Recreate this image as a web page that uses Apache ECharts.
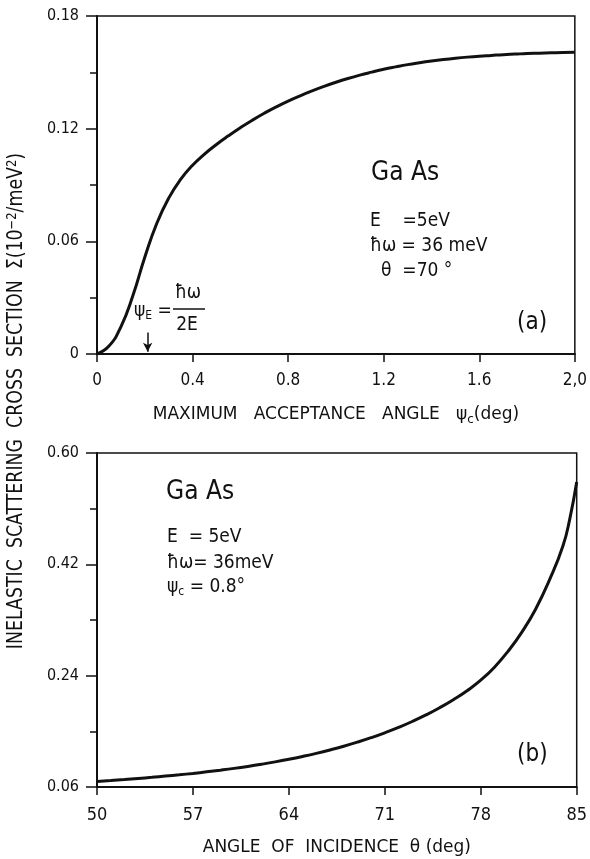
<!DOCTYPE html>
<html>
<head>
<meta charset="utf-8">
<script src="https://cdn.jsdelivr.net/npm/echarts@6/dist/echarts.min.js"></script>
<style>
html,body{margin:0;padding:0;background:#fff;}
#c{width:590px;height:859px;}
</style>
</head>
<body>
<div id="c"></div>
<script>
// ---- data ----
// (a) cross section vs maximum acceptance angle psi_c
var psiC = [0, 0.05, 0.1, 0.15, 0.2, 0.25, 0.3, 0.35, 0.4, 0.45, 0.5, 0.55, 0.6, 0.65, 0.7, 0.75, 0.8, 0.85, 0.9, 0.95, 1.0,
            1.05, 1.1, 1.15, 1.2, 1.25, 1.3, 1.35, 1.4, 1.45, 1.5, 1.55, 1.6, 1.65, 1.7, 1.75, 1.8, 1.85, 1.9, 1.95, 2.0];
var sigmaA = [0, 0.0042, 0.0145, 0.031, 0.0515, 0.0695, 0.083, 0.093, 0.1005, 0.1065, 0.1116, 0.1162, 0.1205, 0.1245, 0.1282, 0.1316, 0.1347, 0.1375, 0.1401, 0.1425, 0.1447,
              0.1467, 0.1485, 0.1501, 0.1516, 0.1529, 0.1541, 0.1551, 0.156, 0.1568, 0.1575, 0.1581, 0.1586, 0.159, 0.1594, 0.1597, 0.16, 0.1602, 0.1604, 0.1606, 0.1607];
// (b) cross section vs angle of incidence theta
var theta = [50, 51, 52, 53, 54, 55, 56, 57, 58, 59, 60, 61, 62, 63, 64, 65, 66, 67, 68, 69, 70,
             71, 72, 73, 74, 75, 76, 77, 78, 79, 80, 81, 82, 83, 84, 84.5, 85];
var sigmaB = [0.069, 0.0705, 0.0721, 0.0738, 0.0756, 0.0776, 0.0797, 0.082, 0.0845, 0.0872, 0.0901, 0.0933, 0.0968, 0.1006, 0.1048, 0.1094, 0.1144, 0.1199, 0.1259, 0.1325, 0.1397,
              0.1476, 0.1563, 0.1659, 0.1765, 0.1882, 0.2012, 0.2157, 0.2327, 0.2537, 0.2797, 0.3105, 0.3475, 0.394, 0.450, 0.494, 0.553];
// arrow marking psi_E = hbar*omega / 2E
var psiE = [0.212];
// tick values / labels
var aXTicks = [0, 0.4, 0.8, 1.2, 1.6, 2.0];
var aXLabels = ['0', '0.4', '0.8', '1.2', '1.6', '2,0'];
var aYTicks = [0, 0.06, 0.12, 0.18];
var aYLabels = ['0', '0.06', '0.12', '0.18'];
var aYMinor = [0.03, 0.09, 0.15];
var bXTicks = [50, 57, 64, 71, 78, 85];
var bXLabels = ['50', '57', '64', '71', '78', '85'];
var bYTicks = [0.06, 0.24, 0.42, 0.60];
var bYLabels = ['0.06', '0.24', '0.42', '0.60'];
var bYMinor = [0.15, 0.33, 0.51];

var FONT = "'DejaVu Sans Condensed', 'Liberation Sans Narrow', 'DejaVu Sans', sans-serif";
var FONTW = "'DejaVu Sans', sans-serif";
var INK = '#111';

function lookup(ticks, labels) {
  return function (v) {
    for (var i = 0; i < ticks.length; i++) {
      if (Math.abs(ticks[i] - v) < 1e-6) return labels[i];
    }
    return '';
  };
}
function pairs(xs, ys) {
  return xs.map(function (x, i) { return [x, ys[i]]; });
}

var axisLineStyle = { show: true, lineStyle: { color: INK, width: 2 } };
var labelBase = { color: INK, fontFamily: FONT, fontSize: 16 };

var chart = echarts.init(document.getElementById('c'), null, { renderer: 'canvas' });

var option = {
  animation: false,
  backgroundColor: '#fff',
  grid: [
    { left: 97, right: 13, top: 16, height: 338, show: true, borderColor: INK, borderWidth: 1.5, backgroundColor: 'transparent' },
    { left: 97, right: 13, top: 453, height: 334, show: true, borderColor: INK, borderWidth: 1.5, backgroundColor: 'transparent' }
  ],
  xAxis: [
    {
      type: 'value', gridIndex: 0, min: 0, max: 2.0,
      axisLine: axisLineStyle,
      axisTick: { show: true, length: 8, lineStyle: { color: INK, width: 1.5 }, customValues: aXTicks },
      axisLabel: Object.assign({}, labelBase, { fontSize: 17, margin: 18, customValues: aXTicks, formatter: lookup(aXTicks, aXLabels) }),
      splitLine: { show: false },
      name: 'MAXIMUM   ACCEPTANCE   ANGLE   ψ{s|c}(deg)',
      nameLocation: 'middle', nameGap: 50,
      nameTextStyle: { color: INK, fontFamily: FONTW, fontSize: 17, rich: { s: { fontFamily: FONTW, fontSize: 12, padding: [10, 0, 0, 0], color: INK } } }
    },
    {
      type: 'value', gridIndex: 1, min: 50, max: 85,
      axisLine: axisLineStyle,
      axisTick: { show: true, length: 8, lineStyle: { color: INK, width: 1.5 }, customValues: bXTicks },
      axisLabel: Object.assign({}, labelBase, { fontSize: 18, margin: 19, customValues: bXTicks, formatter: lookup(bXTicks, bXLabels) }),
      splitLine: { show: false },
      name: 'ANGLE  OF  INCIDENCE  θ (deg)',
      nameLocation: 'middle', nameGap: 52,
      nameTextStyle: { color: INK, fontFamily: FONTW, fontSize: 17 }
    }
  ],
  yAxis: [
    {
      type: 'value', gridIndex: 0, min: 0, max: 0.18,
      axisLine: axisLineStyle,
      axisTick: { show: true, length: 11, lineStyle: { color: INK, width: 1.5 }, customValues: aYTicks },
      axisLabel: Object.assign({}, labelBase, { margin: 18, customValues: aYTicks, formatter: lookup(aYTicks, aYLabels) }),
      splitLine: { show: false }
    },
    {
      type: 'value', gridIndex: 0, min: 0, max: 0.18, position: 'left',
      axisLine: { show: false },
      axisTick: { show: true, length: 7, lineStyle: { color: INK, width: 1.5 }, customValues: aYMinor },
      axisLabel: { show: false },
      splitLine: { show: false }
    },
    {
      type: 'value', gridIndex: 1, min: 0.06, max: 0.60,
      axisLine: axisLineStyle,
      axisTick: { show: true, length: 11, lineStyle: { color: INK, width: 1.5 }, customValues: bYTicks },
      axisLabel: Object.assign({}, labelBase, { margin: 18, customValues: bYTicks, formatter: lookup(bYTicks, bYLabels) }),
      splitLine: { show: false }
    },
    {
      type: 'value', gridIndex: 1, min: 0.06, max: 0.60, position: 'left',
      axisLine: { show: false },
      axisTick: { show: true, length: 7, lineStyle: { color: INK, width: 1.5 }, customValues: bYMinor },
      axisLabel: { show: false },
      splitLine: { show: false }
    }
  ],
  series: [
    {
      type: 'line', xAxisIndex: 0, yAxisIndex: 0,
      data: pairs(psiC, sigmaA), smooth: 0.5, smoothConstraint: false, showSymbol: false,
      lineStyle: { color: INK, width: 3 },
      markLine: {
        silent: true, symbol: ['none', 'arrow'], symbolSize: [7, 9],
        label: { show: false },
        lineStyle: { color: INK, width: 1.5, type: 'solid' },
        data: [[{ coord: [psiE[0], 0.0115] }, { coord: [psiE[0], 0.0012] }]]
      }
    },
    {
      type: 'line', xAxisIndex: 1, yAxisIndex: 2,
      data: pairs(theta, sigmaB), smooth: 0.5, smoothConstraint: false, showSymbol: false,
      lineStyle: { color: INK, width: 3 }
    }
  ],
  graphic: [
    // shared y-axis title (tall, narrow lettering)
    {
      type: 'text', x: 17, y: 401, rotation: Math.PI / 2, scaleX: 0.92, scaleY: 1,
      style: {
        text: 'INELASTIC  SCATTERING  CROSS  SECTION  Σ(10{p|−2}/meV{p|2})',
        fill: INK, font: '21px ' + FONT, align: 'center', verticalAlign: 'middle',
        rich: { p: { fontSize: 14, verticalAlign: 'top', padding: [0, 0, 10, 0], fill: INK, fontFamily: FONT } }
      }
    },
    // panel (a) annotations
    { type: 'text', x: 371, y: 173, style: { text: 'Ga As', fill: INK, font: '26px ' + FONT, verticalAlign: 'middle' } },
    { type: 'text', x: 370, y: 221, style: { text: 'E    =5eV', fill: INK, font: '19px ' + FONT, verticalAlign: 'middle' } },
    { type: 'text', x: 370, y: 246, style: { text: 'ħω = 36 meV', fill: INK, font: '19px ' + FONT, verticalAlign: 'middle' } },
    { type: 'text', x: 381, y: 271, style: { text: 'θ  =70 °', fill: INK, font: '19px ' + FONT, verticalAlign: 'middle' } },
    { type: 'text', x: 517, y: 323, style: { text: '(a)', fill: INK, font: '24px ' + FONT, verticalAlign: 'middle' } },
    // psi_E label
    { type: 'text', x: 134, y: 311, style: { text: 'ψ{s|E} =', fill: INK, font: '19px ' + FONT, verticalAlign: 'middle', rich: { s: { fontSize: 12, fontFamily: FONT, fill: INK, padding: [10, 0, 0, 0] } } } },
    { type: 'text', x: 188, y: 293, style: { text: 'ħω', fill: INK, font: '19px ' + FONT, align: 'center', verticalAlign: 'middle' } },
    { type: 'line', shape: { x1: 173, y1: 309, x2: 205, y2: 309 }, style: { stroke: INK, lineWidth: 1.5 } },
    { type: 'text', x: 187, y: 325, style: { text: '2E', fill: INK, font: '19px ' + FONT, align: 'center', verticalAlign: 'middle' } },
    // panel (b) annotations
    { type: 'text', x: 166, y: 492, style: { text: 'Ga As', fill: INK, font: '26px ' + FONT, verticalAlign: 'middle' } },
    { type: 'text', x: 167, y: 537, style: { text: 'E  = 5eV', fill: INK, font: '19px ' + FONT, verticalAlign: 'middle' } },
    { type: 'text', x: 167, y: 563, style: { text: 'ħω= 36meV', fill: INK, font: '19px ' + FONT, verticalAlign: 'middle' } },
    { type: 'text', x: 167, y: 587, style: { text: 'ψ{s|c} = 0.8°', fill: INK, font: '19px ' + FONT, verticalAlign: 'middle', rich: { s: { fontSize: 12, fontFamily: FONT, fill: INK, padding: [10, 0, 0, 0] } } } },
    { type: 'text', x: 517, y: 755, style: { text: '(b)', fill: INK, font: '24px ' + FONT, verticalAlign: 'middle' } }
  ]
};
chart.setOption(option);
</script>
</body>
</html>
